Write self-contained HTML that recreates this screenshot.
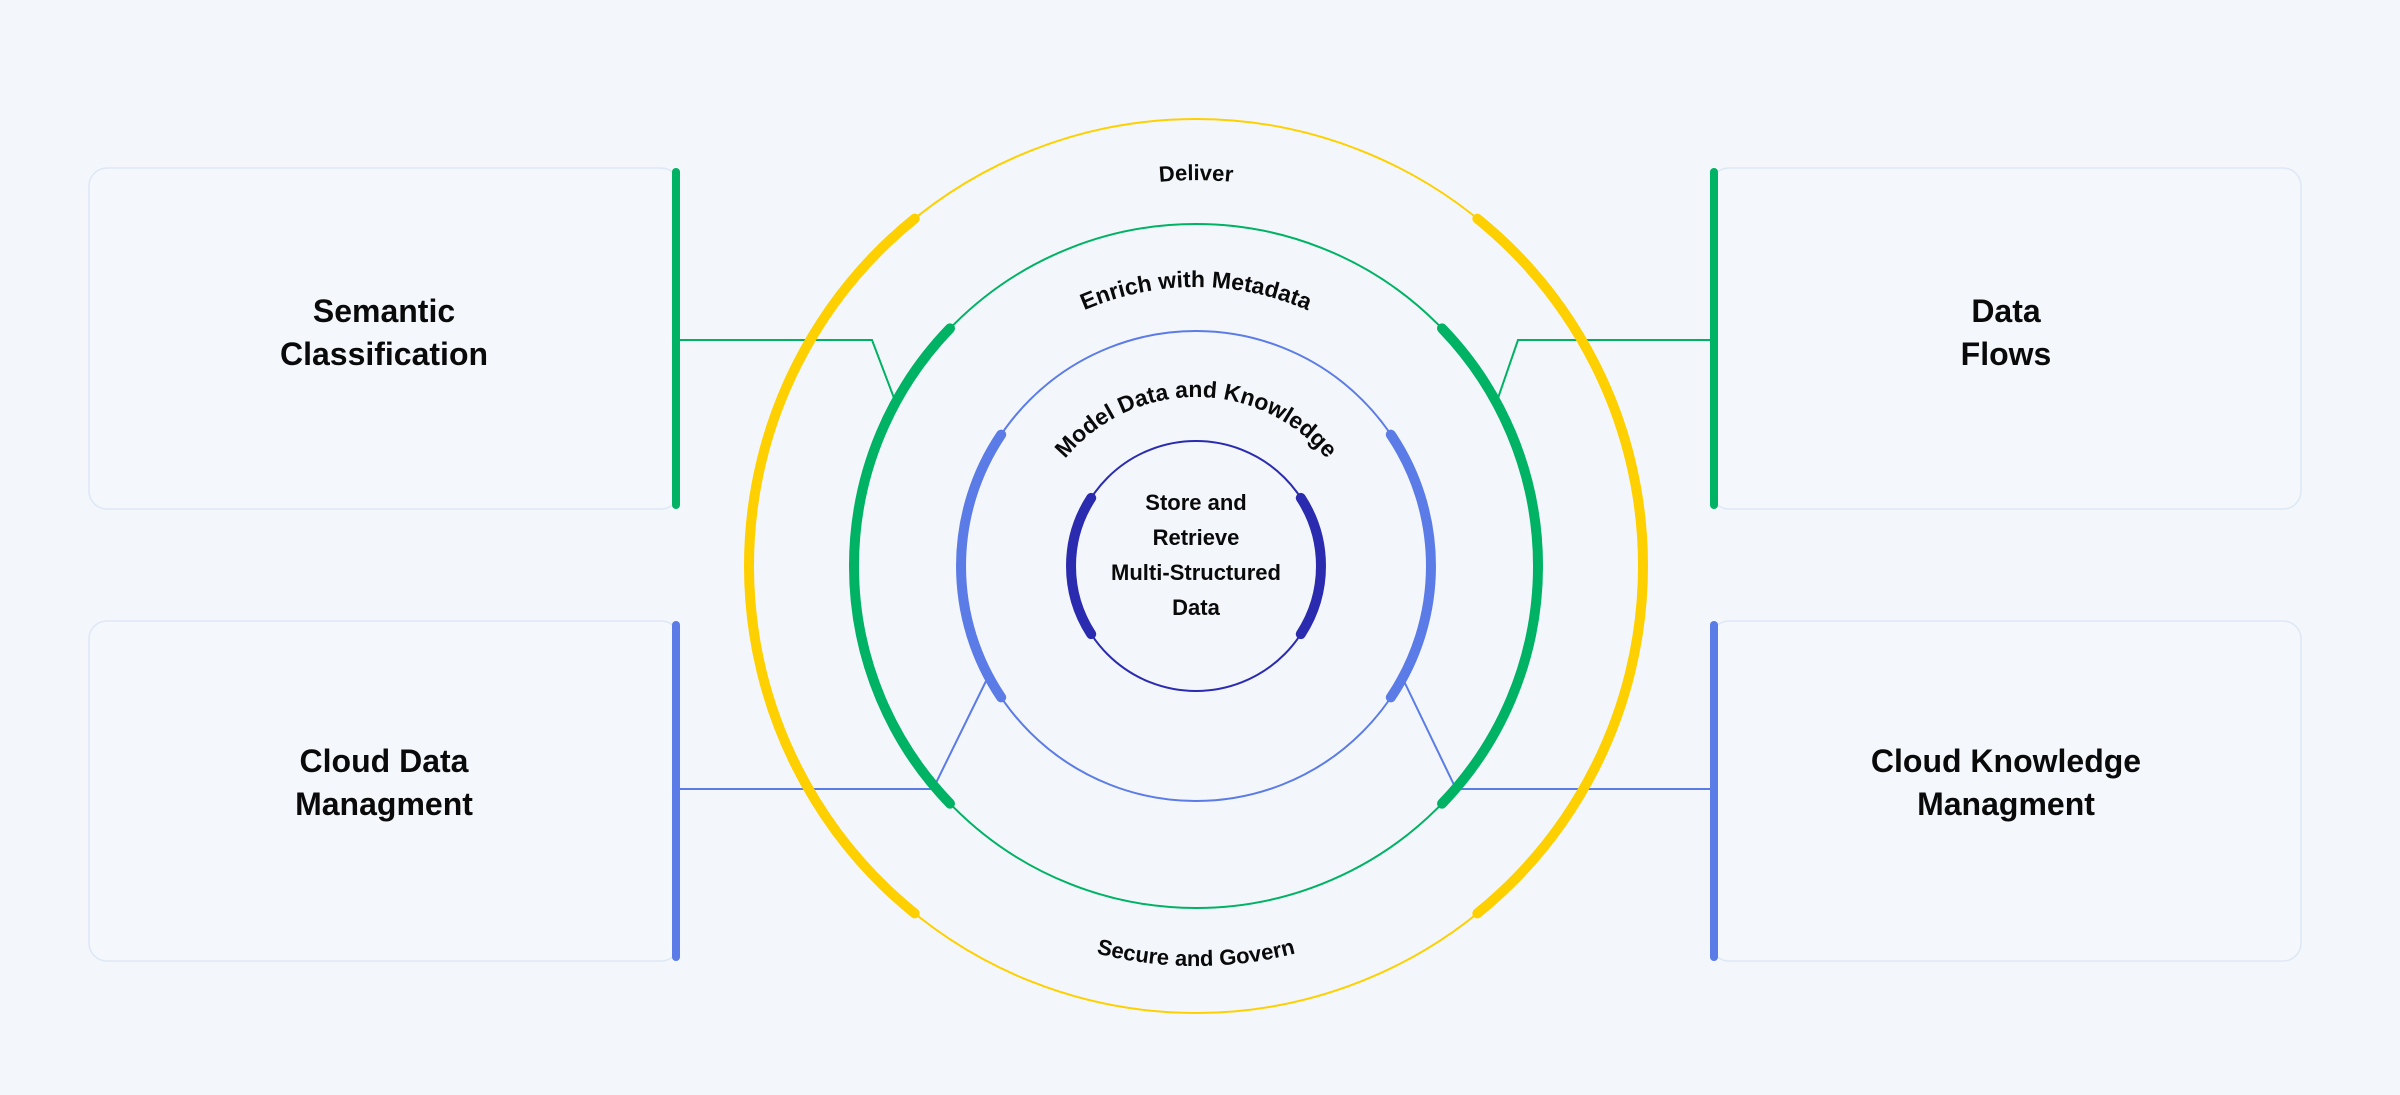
<!DOCTYPE html>
<html><head><meta charset="utf-8"><style>
html,body{margin:0;padding:0;background:#F3F7FC;}
svg{display:block;font-family:"Liberation Sans",sans-serif;font-weight:bold;}
</style></head><body>
<svg width="2400" height="1095" viewBox="0 0 2400 1095" xmlns="http://www.w3.org/2000/svg">
<rect width="2400" height="1095" fill="#F3F7FC"/>
<!-- boxes -->
<g fill="#F4F8FD" stroke="#DDE7F5" stroke-width="1.5">
<rect x="89" y="168" width="590" height="341" rx="18"/>
<rect x="89" y="621" width="590" height="340" rx="18"/>
<rect x="1711" y="168" width="590" height="341" rx="18"/>
<rect x="1711" y="621" width="590" height="340" rx="18"/>
</g>
<rect x="672" y="168" width="8" height="341" rx="4" fill="#00B264"/>
<rect x="672" y="621" width="8" height="340" rx="4" fill="#5B7BE6"/>
<rect x="1710" y="168" width="8" height="341" rx="4" fill="#00B264"/>
<rect x="1710" y="621" width="8" height="340" rx="4" fill="#5B7BE6"/>
<g font-size="32" text-anchor="middle" fill="#0a0a0a">
<text x="384" y="322">Semantic</text><text x="384" y="365">Classification</text>
<text x="384" y="772">Cloud Data</text><text x="384" y="815">Managment</text>
<text x="2006" y="322">Data</text><text x="2006" y="365">Flows</text>
<text x="2006" y="772">Cloud Knowledge</text><text x="2006" y="815">Managment</text>
</g>
<!-- connectors -->
<g fill="none" stroke-width="2">
<polyline points="680,340 872,340 894,398" stroke="#00B264"/>
<polyline points="680,789 933,789 988,677" stroke="#5B7BE6"/>
<polyline points="1710,340 1518,340 1497,401" stroke="#00B264"/>
<polyline points="1710,789 1456,789 1402,677" stroke="#5B7BE6"/>
</g>
<!-- circles -->
<g fill="none">
<circle cx="1196" cy="566" r="447" stroke="#FFD000" stroke-width="2"/>
<circle cx="1196" cy="566" r="342" stroke="#00B264" stroke-width="2"/>
<circle cx="1196" cy="566" r="235" stroke="#5B7BE6" stroke-width="2"/>
<circle cx="1196" cy="566" r="125" stroke="#2B2BB0" stroke-width="2"/>
</g>
<g fill="none" stroke-linecap="round" stroke-width="10">
<!-- yellow ±51° -->
<path d="M 914.7 218.6 A 447 447 0 0 0 914.7 913.4" stroke="#FFD000"/>
<path d="M 1477.3 218.6 A 447 447 0 0 1 1477.3 913.4" stroke="#FFD000"/>
<!-- green ±44° -->
<path d="M 950 328.4 A 342 342 0 0 0 950 803.6" stroke="#00B264"/>
<path d="M 1442 328.4 A 342 342 0 0 1 1442 803.6" stroke="#00B264"/>
<!-- blue ±34° -->
<path d="M 1001.2 434.6 A 235 235 0 0 0 1001.2 697.4" stroke="#5B7BE6"/>
<path d="M 1390.8 434.6 A 235 235 0 0 1 1390.8 697.4" stroke="#5B7BE6"/>
<!-- dark ±33° -->
<path d="M 1091.2 497.9 A 125 125 0 0 0 1091.2 634.1" stroke="#2B2BB0"/>
<path d="M 1300.8 497.9 A 125 125 0 0 1 1300.8 634.1" stroke="#2B2BB0"/>
</g>
<defs>
<path id="pDel" d="M 810 566 A 386 386 0 0 1 1582 566"/>
<path id="pEn" d="M 917 566 A 279 279 0 0 1 1475 566"/>
<path id="pMo" d="M 1027 566 A 169 169 0 0 1 1365 566"/>
<path id="pSe" d="M 796 566 A 400 400 0 0 0 1596 566"/>
</defs>
<g font-size="22" fill="#0a0a0a" text-anchor="middle">
<text><textPath href="#pDel" startOffset="50%">Deliver</textPath></text>
<text font-size="23"><textPath href="#pEn" startOffset="50%">Enrich with Metadata</textPath></text>
<text font-size="23"><textPath href="#pMo" startOffset="50%">Model Data and Knowledge</textPath></text>
<text><textPath href="#pSe" startOffset="50%">Secure and Govern</textPath></text>
</g>
<g font-size="22" text-anchor="middle" fill="#0a0a0a">
<text x="1196" y="510">Store and</text>
<text x="1196" y="545">Retrieve</text>
<text x="1196" y="580">Multi-Structured</text>
<text x="1196" y="615">Data</text>
</g>
</svg>
</body></html>
